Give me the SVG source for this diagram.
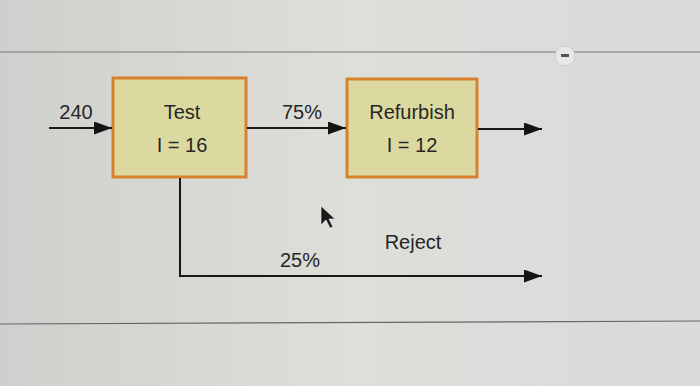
<svg xmlns="http://www.w3.org/2000/svg" width="700" height="386" viewBox="0 0 700 386">
<defs>
<linearGradient id="bg" x1="0" y1="0" x2="1" y2="0">
<stop offset="0" stop-color="#cfcfcd"/>
<stop offset="0.5" stop-color="#dedfd9"/>
<stop offset="1" stop-color="#d8dadc"/>
</linearGradient>
<marker id="ah" markerWidth="18" markerHeight="13" refX="18" refY="6.5" orient="auto" markerUnits="userSpaceOnUse">
<path d="M0,0 L18,6.5 L0,13 Z" fill="#141414"/>
</marker>
<style>
.box{fill:#dcd9a0;stroke:#d7812e;stroke-width:3}
.t{font-family:"Liberation Sans",Arial,sans-serif;font-size:20px;fill:#262626;text-anchor:middle}
.c{fill:none;stroke:#181818;stroke-width:2}
</style>
</defs>
<rect width="700" height="386" fill="url(#bg)"/>
<line x1="0" y1="52" x2="700" y2="52" stroke="#777" stroke-width="1.2"/>
<line x1="0" y1="324" x2="700" y2="321" stroke="#666" stroke-width="1.2"/>
<circle cx="565" cy="56" r="10" fill="#e8e8e8" stroke="#ccc" stroke-width="1"/>
<rect x="561" y="54" width="8" height="3" fill="#555"/>
<g id="test">
<rect class="box" x="113" y="78" width="133" height="99"/>
<text class="t" x="182" y="119">Test</text>
<text class="t" x="182" y="152">I = 16</text>
</g>
<g id="refurbish">
<rect class="box" x="347" y="79" width="130" height="98"/>
<text class="t" x="412" y="119">Refurbish</text>
<text class="t" x="412" y="152">I = 12</text>
</g>
<g id="connectors">
<line class="c" x1="49" y1="128" x2="112" y2="128" marker-end="url(#ah)"/>
<line class="c" x1="247" y1="128" x2="346" y2="128" marker-end="url(#ah)"/>
<line class="c" x1="478" y1="129" x2="542" y2="129" marker-end="url(#ah)"/>
<polyline class="c" points="180,178 180,276 542,276" marker-end="url(#ah)"/>
</g>
<g id="labels">
<text class="t" x="76" y="119">240</text>
<text class="t" x="302" y="119">75%</text>
<text class="t" x="300" y="267">25%</text>
<text class="t" x="413" y="249">Reject</text>
</g>
<path d="M321,206 L321,225 L326,220 L330,228 L333,227 L329,219 L335,219 Z" fill="#1a1a1a" stroke="#eee" stroke-width="0.6"/>
</svg>
